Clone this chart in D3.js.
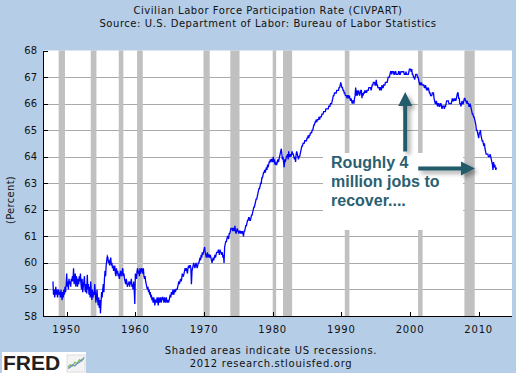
<!DOCTYPE html>
<html>
<head>
<meta charset="utf-8">
<script src="https://cdn.jsdelivr.net/npm/d3@7"></script>
<style>
  body { margin: 0; background: #b5cde6; }
  svg { display: block; font-family: "DejaVu Sans", Verdana, sans-serif; }
</style>
</head>
<body>
<svg id="chart"></svg>
<script>
// Monthly CIVPART values, starting Jan 1948
const startYear = 1948;
const civpart = [
  /* 1948 */ 59.3, 58.8, 59.0, 58.7, 58.9, 59.1, 58.8, 59.0, 58.7, 58.9, 59.0, 58.8,
  /* 1949 */ 58.9, 58.7, 59.0, 58.8, 58.6, 58.9, 58.7, 59.0, 58.8, 59.1, 58.9, 59.2,
  /* 1950 */ 59.6, 59.1, 59.3, 59.0, 59.4, 59.2, 59.3, 59.1, 59.4, 59.3, 59.5, 59.3,
  /* 1951 */ 59.8, 59.2, 59.4, 59.6, 59.1, 59.5, 59.3, 59.1, 59.4, 59.2, 59.5, 59.3,
  /* 1952 */ 59.6, 59.2, 59.0, 59.4, 58.9, 59.1, 59.3, 59.5, 59.0, 58.9, 59.2, 58.85,
  /* 1953 */ 59.55, 59.0, 59.2, 58.8, 59.1, 58.7, 59.3, 58.9, 58.6, 59.0, 58.7, 58.9,
  /* 1954 */ 58.8, 59.2, 58.9, 58.5, 58.7, 59.0, 58.6, 58.4, 58.7, 58.3, 58.6, 58.1,
  /* 1955 */ 58.5, 58.9, 58.7, 59.0, 59.2, 58.9, 59.4, 59.7, 59.5, 59.9, 60.1, 60.25,
  /* 1956 */ 60.2, 60.0, 60.1, 59.9, 60.1, 60.2, 59.9, 60.0, 59.8, 59.9, 59.7, 59.8,
  /* 1957 */ 59.9, 59.6, 59.5, 59.8, 59.6, 59.7, 59.5, 59.6, 59.4, 59.5, 59.7, 59.6,
  /* 1958 */ 59.5, 59.7, 59.8, 59.5, 59.6, 59.4, 59.3, 59.2, 59.4, 59.3, 59.1, 59.2,
  /* 1959 */ 59.2, 59.3, 59.1, 59.3, 59.2, 59.4, 59.1, 59.2, 59.0, 59.3, 59.0, 58.45,
  /* 1960 */ 59.6, 59.5, 59.4, 59.7, 59.8, 59.6, 59.7, 59.5, 59.8, 59.6, 59.7, 59.8,
  /* 1961 */ 59.7, 59.6, 59.8, 59.5, 59.4, 59.5, 59.3, 59.2, 59.1, 59.0, 59.1, 58.9,
  /* 1962 */ 59.0, 58.8, 58.9, 58.7, 58.8, 58.6, 58.7, 58.5, 58.7, 58.6, 58.4, 58.6,
  /* 1963 */ 58.6, 58.5, 58.7, 58.6, 58.4, 58.7, 58.5, 58.6, 58.7, 58.5, 58.6, 58.7,
  /* 1964 */ 58.7, 58.6, 58.5, 58.7, 58.6, 58.5, 58.7, 58.6, 58.5, 58.6, 58.5, 58.6,
  /* 1965 */ 58.7, 58.8, 58.7, 58.9, 58.8, 58.9, 59.0, 58.8, 58.9, 59.0, 58.9, 59.0,
  /* 1966 */ 59.0, 59.0, 59.1, 59.2, 59.3, 59.2, 59.3, 59.4, 59.3, 59.4, 59.6, 59.5,
  /* 1967 */ 59.5, 59.6, 59.7, 59.8, 59.7, 59.8, 59.7, 59.6, 59.8, 59.9, 59.8, 59.9,
  /* 1968 */ 59.9, 59.8, 59.2, 59.7, 59.8, 59.9, 60.0, 59.9, 59.8, 59.9, 60.0, 59.9,
  /* 1969 */ 59.8, 59.9, 60.0, 60.0, 60.1, 60.2, 60.1, 60.3, 60.2, 60.4, 60.3, 60.4,
  /* 1970 */ 60.5, 60.6, 60.4, 60.3, 60.2, 60.3, 60.4, 60.2, 60.3, 60.3, 60.2, 60.3,
  /* 1971 */ 60.2, 60.1, 60.0, 60.1, 60.2, 60.1, 60.2, 60.3, 60.2, 60.3, 60.4, 60.4,
  /* 1972 */ 60.4, 60.5, 60.4, 60.3, 60.5, 60.4, 60.4, 60.3, 60.4, 60.2, 60.3, 60.0,
  /* 1973 */ 60.6, 60.7, 60.8, 60.8, 60.9, 61.0, 61.0, 60.9, 61.1, 61.1, 61.2, 61.3,
  /* 1974 */ 61.3, 61.3, 61.2, 61.3, 61.3, 61.2, 61.4, 61.2, 61.1, 61.2, 61.3, 61.2,
  /* 1975 */ 61.2, 61.1, 61.2, 61.2, 61.1, 61.2, 61.1, 61.2, 61.1, 61.0, 61.2, 61.2,
  /* 1976 */ 61.3, 61.4, 61.4, 61.5, 61.6, 61.6, 61.7, 61.7, 61.6, 61.6, 61.7, 61.8,
  /* 1977 */ 61.8, 61.9, 62.0, 62.1, 62.1, 62.2, 62.3, 62.4, 62.4, 62.5, 62.6, 62.7,
  /* 1978 */ 62.8, 62.8, 62.9, 63.0, 63.0, 63.2, 63.2, 63.3, 63.4, 63.4, 63.5, 63.4,
  /* 1979 */ 63.5, 63.6, 63.5, 63.7, 63.6, 63.7, 63.8, 63.8, 63.9, 63.8, 63.9, 63.9,
  /* 1980 */ 63.8, 64.0, 63.8, 63.9, 63.7, 63.8, 63.7, 63.7, 63.8, 63.9, 63.8, 63.9,
  /* 1981 */ 64.0, 64.1, 64.2, 64.3, 64.1, 63.9, 64.0, 63.8, 63.6, 63.9, 63.8, 63.9,
  /* 1982 */ 64.0, 64.0, 64.1, 63.9, 64.2, 64.0, 64.0, 64.1, 64.0, 64.1, 64.2, 64.1,
  /* 1983 */ 64.1, 64.0, 63.9, 64.0, 63.8, 64.1, 64.2, 64.1, 64.0, 63.9, 64.0, 64.0,
  /* 1984 */ 64.1, 64.2, 64.3, 64.4, 64.4, 64.5, 64.5, 64.5, 64.6, 64.6, 64.6, 64.6,
  /* 1985 */ 64.7, 64.7, 64.8, 64.7, 64.8, 64.8, 64.9, 64.9, 64.9, 65.0, 65.0, 65.1,
  /* 1986 */ 65.2, 65.2, 65.3, 65.3, 65.4, 65.3, 65.4, 65.4, 65.4, 65.5, 65.4, 65.5,
  /* 1987 */ 65.5, 65.5, 65.6, 65.6, 65.6, 65.7, 65.7, 65.7, 65.7, 65.8, 65.8, 65.8,
  /* 1988 */ 65.8, 65.8, 65.9, 65.9, 65.9, 66.0, 66.0, 66.0, 66.1, 66.2, 66.3, 66.3,
  /* 1989 */ 66.4, 66.4, 66.4, 66.4, 66.5, 66.5, 66.5, 66.5, 66.6, 66.6, 66.7, 66.8,
  /* 1990 */ 66.7, 66.6, 66.6, 66.5, 66.5, 66.4, 66.4, 66.3, 66.3, 66.3, 66.2, 66.3,
  /* 1991 */ 66.3, 66.2, 66.3, 66.2, 66.1, 66.2, 66.1, 66.0, 66.1, 66.1, 66.0, 66.2,
  /* 1992 */ 66.3, 66.6, 66.3, 66.5, 66.3, 66.4, 66.5, 66.4, 66.3, 66.4, 66.5, 66.5,
  /* 1993 */ 66.2, 66.4, 66.3, 66.4, 66.4, 66.5, 66.4, 66.5, 66.4, 66.5, 66.5, 66.5,
  /* 1994 */ 66.6, 66.6, 66.6, 66.6, 66.5, 66.6, 66.7, 66.7, 66.8, 66.8, 66.8, 66.7,
  /* 1995 */ 66.7, 66.9, 66.7, 66.7, 66.6, 66.6, 66.6, 66.5, 66.6, 66.6, 66.5, 66.7,
  /* 1996 */ 66.6, 66.6, 66.7, 66.7, 66.7, 66.8, 66.8, 66.8, 66.8, 66.9, 67.0, 67.0,
  /* 1997 */ 67.0, 67.1, 67.2, 67.2, 67.1, 67.2, 67.2, 67.2, 67.1, 67.1, 67.2, 67.2,
  /* 1998 */ 67.1, 67.1, 67.1, 67.1, 67.2, 67.2, 67.1, 67.1, 67.2, 67.2, 67.2, 67.2,
  /* 1999 */ 67.2, 67.2, 67.1, 67.1, 67.1, 67.2, 67.1, 67.1, 67.1, 67.1, 67.2, 67.3,
  /* 2000 */ 67.3, 67.3, 67.2, 67.3, 67.1, 67.1, 67.0, 67.0, 66.9, 67.0, 67.1, 67.1,
  /* 2001 */ 67.1, 67.0, 67.0, 66.9, 66.8, 66.7, 66.8, 66.7, 66.8, 66.7, 66.7, 66.7,
  /* 2002 */ 66.7, 66.6, 66.6, 66.7, 66.6, 66.5, 66.6, 66.5, 66.6, 66.5, 66.4, 66.4,
  /* 2003 */ 66.3, 66.3, 66.3, 66.4, 66.4, 66.4, 66.2, 66.1, 66.0, 66.0, 66.1, 66.0,
  /* 2004 */ 65.9, 66.0, 66.0, 65.9, 65.9, 66.0, 66.0, 65.9, 65.8, 65.9, 65.9, 65.9,
  /* 2005 */ 65.8, 65.9, 65.9, 66.0, 66.1, 66.1, 66.1, 66.1, 66.0, 66.0, 66.0, 66.0,
  /* 2006 */ 66.0, 66.1, 66.2, 66.1, 66.1, 66.2, 66.1, 66.2, 66.1, 66.2, 66.3, 66.4,
  /* 2007 */ 66.4, 66.2, 66.2, 66.0, 66.0, 65.9, 66.0, 66.1, 66.0, 66.0, 66.1, 66.2,
  /* 2008 */ 66.2, 66.1, 66.1, 66.0, 66.1, 66.0, 66.0, 65.9, 65.9, 66.0, 65.9, 65.8,
  /* 2009 */ 65.7, 65.6, 65.6, 65.5, 65.5, 65.4, 65.3, 65.2, 65.0, 65.0, 64.9, 64.8,
  /* 2010 */ 64.7, 64.9, 64.9, 65.0, 64.8, 64.7, 64.6, 64.6, 64.5, 64.4, 64.5, 64.3,
  /* 2011 */ 64.2, 64.1, 64.1, 64.1, 64.1, 64.0, 64.0, 64.0, 64.1, 64.0, 63.9, 63.8,
  /* 2012 */ 63.7, 63.5, 63.8, 63.6, 63.7, 63.6, 63.5, 63.6
];

// US recessions (decimal years)
const recessionStarts = [1948.83, 1953.5, 1957.58, 1960.25, 1969.92, 1973.83, 1980.0, 1981.5, 1990.5, 2001.17, 2007.92];
const recessionEnds = [1949.75, 1954.33, 1958.25, 1961.08, 1970.83, 1975.17, 1980.5, 1982.83, 1991.17, 2001.83, 2009.42];

const yTicks = [58, 59, 60, 61, 62, 63, 64, 65, 66, 67, 68];
const xTicks = [1950, 1960, 1970, 1980, 1990, 2000, 2010];

const titleLines = [
  "Civilian Labor Force Participation Rate (CIVPART)",
  "Source: U.S. Department of Labor: Bureau of Labor Statistics"
];
const footerLines = [
  "Shaded areas indicate US recessions.",
  "2012 research.stlouisfed.org"
];
const noteLines = ["Roughly 4", "million jobs to", "recover...."];

// small FRED logo sparkline
const logoGreen = [1.5, 2.5, 2.0, 3.5, 3.0, 4.5, 4.0, 5.5];
const logoBlue = [1.0, 1.5, 2.5, 2.0, 3.0, 3.5, 4.5, 5.0];

// SVG dimensions
const svgWidth = 516;
const svgHeight = 373;
const margin = { top: 50.5, right: 4, bottom: 57, left: 43 };

const svg = d3.select("#chart").attr("width", svgWidth).attr("height", svgHeight);

svg.append("rect").attr("width", svgWidth).attr("height", svgHeight).attr("fill", "#b5cde6");

const defs = svg.append("defs");
const shadow = defs.append("filter").attr("id", "shadow")
  .attr("x", "-50%").attr("y", "-50%").attr("width", "200%").attr("height", "200%");
shadow.append("feDropShadow")
  .attr("dx", 3).attr("dy", 3).attr("stdDeviation", 2)
  .attr("flood-color", "#000").attr("flood-opacity", 0.35);

// scales
const x = d3.scaleLinear().domain([1946.55, 2014.85]).range([margin.left, svgWidth - margin.right]);
const y = d3.scaleLinear().domain([58, 68]).range([svgHeight - margin.bottom, margin.top]);

const [x0, x1] = x.range();
const [yBottom, yTop] = y.range();

// plot background
svg.append("rect")
  .attr("x", x0).attr("y", yTop)
  .attr("width", x1 - x0).attr("height", yBottom - yTop)
  .attr("fill", "#fff");

// grid lines
svg.append("g").selectAll("line")
  .data(yTicks.filter((d) => d > 58 && d < 68))
  .join("line")
  .attr("x1", x0).attr("x2", x1)
  .attr("y1", (d) => Math.round(y(d)) + 0.5).attr("y2", (d) => Math.round(y(d)) + 0.5)
  .attr("stroke", "#aaa").attr("stroke-width", 1);

// recession shading
svg.append("g").selectAll("rect")
  .data(recessionStarts.map((s, i) => [s, recessionEnds[i]]))
  .join("rect")
  .attr("x", (d) => x(d[0]))
  .attr("width", (d) => x(d[1]) - x(d[0]))
  .attr("y", yTop).attr("height", yBottom - yTop)
  .attr("fill", "#c0c0c0");

// annotation box
const boxX0 = x(1987.32), boxX1 = x(2007.72);
const boxY0 = y(64.14), boxY1 = y(61.24);
svg.append("rect")
  .attr("x", boxX0).attr("y", boxY0)
  .attr("width", boxX1 - boxX0).attr("height", boxY1 - boxY0)
  .attr("fill", "#fff");

// data line
const line = d3.line()
  .x((d, i) => x(startYear + i / 12))
  .y((d) => y(d));

svg.append("path")
  .datum(civpart)
  .attr("d", line)
  .attr("fill", "none")
  .attr("stroke", "#0000ff")
  .attr("stroke-width", 1.3);

// axes
const axes = svg.append("g").attr("stroke", "#000").attr("shape-rendering", "crispEdges");
axes.append("line").attr("x1", x0 + 0.5).attr("x2", x0 + 0.5).attr("y1", yTop).attr("y2", yBottom + 0.5);
axes.append("line").attr("x1", x0).attr("x2", x1).attr("y1", yBottom + 0.5).attr("y2", yBottom + 0.5);
axes.selectAll(".ytick").data(yTicks).join("line").attr("class", "ytick")
  .attr("x1", x0).attr("x2", x0 + 5)
  .attr("y1", (d) => Math.round(y(d)) + 0.5).attr("y2", (d) => Math.round(y(d)) + 0.5);
axes.selectAll(".xtick").data(xTicks).join("line").attr("class", "xtick")
  .attr("x1", (d) => Math.round(x(d)) + 0.5).attr("x2", (d) => Math.round(x(d)) + 0.5)
  .attr("y1", yBottom).attr("y2", yBottom - 4);

// tick labels
svg.append("g").selectAll("text").data(yTicks).join("text")
  .attr("x", x0 - 6).attr("y", (d) => y(d)).attr("dy", "0.35em")
  .attr("text-anchor", "end").attr("font-size", 10).attr("fill", "#111")
  .text((d) => d);

svg.append("g").selectAll("text").data(xTicks).join("text")
  .attr("x", (d) => x(d)).attr("y", yBottom + 17)
  .attr("text-anchor", "middle").attr("font-size", 10).attr("letter-spacing", 0.8)
  .attr("fill", "#111")
  .text((d) => d);

svg.append("text")
  .attr("transform", "translate(14,200) rotate(-90)")
  .attr("text-anchor", "middle").attr("font-size", 10).attr("letter-spacing", 0.3)
  .attr("fill", "#111")
  .text("(Percent)");

// title and footer
svg.append("g").selectAll("text").data(titleLines).join("text")
  .attr("x", 268).attr("y", (d, i) => 14 + i * 13)
  .attr("text-anchor", "middle").attr("font-size", 10).attr("letter-spacing", 0.55)
  .attr("fill", "#111")
  .text((d) => d);

svg.append("g").selectAll("text").data(footerLines).join("text")
  .attr("x", 271).attr("y", (d, i) => 354 + i * 13)
  .attr("text-anchor", "middle").attr("font-size", 10).attr("letter-spacing", 0.7)
  .attr("fill", "#111")
  .text((d) => d);

// annotation text
svg.append("g").selectAll("text").data(noteLines).join("text")
  .attr("x", x(1988.5)).attr("y", (d, i) => y(63.58) + i * 19)
  .attr("font-family", "'Liberation Sans', Arial, sans-serif")
  .attr("font-weight", "bold").attr("font-size", 16).attr("fill", "#2a6070")
  .text((d) => d);

// arrows
const arrowColor = "#215b6a";
function arrow(xa, ya, xb, yb) {
  const dx = xb - xa, dy = yb - ya, len = Math.hypot(dx, dy);
  const ux = dx / len, uy = dy / len, px = -uy, py = ux;
  const head = 14, hw = 7, sw = 2;
  const bx = xb - ux * head, by = yb - uy * head;
  const pts = [
    [xa + px * sw, ya + py * sw], [bx + px * sw, by + py * sw], [bx + px * hw, by + py * hw],
    [xb, yb], [bx - px * hw, by - py * hw], [bx - px * sw, by - py * sw], [xa - px * sw, ya - py * sw]
  ];
  svg.append("path")
    .attr("d", "M" + pts.map((p) => p.join(",")).join("L") + "Z")
    .attr("fill", arrowColor)
    .attr("filter", "url(#shadow)");
}
arrow(x(1999.3), y(64.2), x(1999.3), y(66.44));
arrow(x(2001.2), y(63.56), x(2009.46), y(63.56));

// FRED logo
const logo = svg.append("g");
logo.append("rect").attr("x", 2).attr("y", 352).attr("width", 84).attr("height", 21).attr("fill", "#fff");
logo.append("text").attr("x", 3).attr("y", 370)
  .attr("font-family", "'Liberation Sans', Arial, sans-serif").attr("font-weight", "bold")
  .attr("font-size", 21).attr("fill", "#231f20").text("FRED");
const lx = d3.scaleLinear().domain([0, logoGreen.length - 1]).range([68, 84]);
const ly = d3.scaleLinear().domain([0, 6]).range([371, 356]);
logo.append("rect").attr("x", 67).attr("y", 355).attr("width", 18).attr("height", 17)
  .attr("fill", "#f3f3f3").attr("stroke", "#ddd");
logo.append("path").datum(logoGreen)
  .attr("d", d3.line().x((d, i) => lx(i)).y((d) => ly(d)))
  .attr("fill", "none").attr("stroke", "#7bb24a").attr("stroke-width", 1.2);
logo.append("path").datum(logoBlue)
  .attr("d", d3.line().x((d, i) => lx(i)).y((d) => ly(d)))
  .attr("fill", "none").attr("stroke", "#6a8fc8").attr("stroke-width", 1.2);
</script>
</body>
</html>
